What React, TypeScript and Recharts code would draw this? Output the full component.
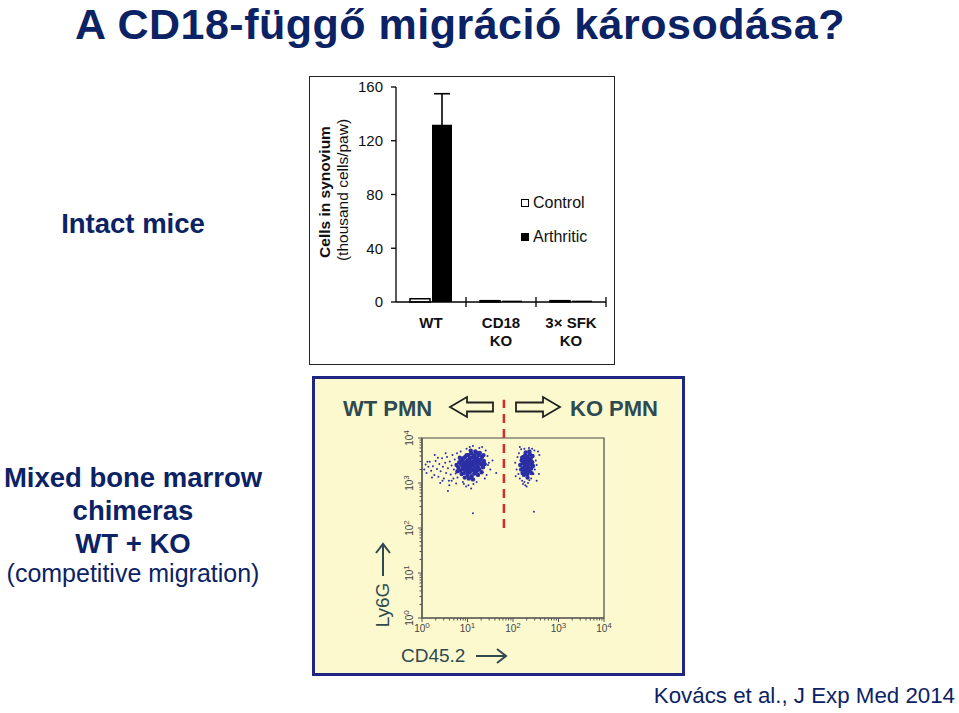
import {
  BarChart,
  Bar,
  XAxis,
  YAxis,
  ErrorBar,
  Legend,
  ScatterChart,
  Scatter,
  ReferenceLine,
  ReferenceArea,
} from "recharts";

const FONT = "'Liberation Sans', Arial, Helvetica, sans-serif";
const NAVY = "#0b2265";
const SLATE = "#2f4a4f";
const DOT = "#2b2fa6";

// bar chart: cells in synovium (thousand cells/paw)
const groups = ["WT", "CD18 KO", "3× SFK KO"];
const groupLabels = [["WT"], ["CD18", "KO"], ["3× SFK", "KO"]];
const controlCells = [2.5, 1, 1];
const arthriticCells = [132, 1, 1];
const arthriticSem = [23, 0, 0];
const cellTicks = [0, 40, 80, 120, 160];

// flow dot plot, values in log10 decades (x = CD45.2, y = Ly6G)
const decades = [0, 1, 2, 3, 4];
const gateX = 1.8;
const gateFrom = 2;
const gateTo = 4.85;

const wtCore = [
  [0.80, 3.35], [0.84, 3.28], [0.86, 3.42], [0.88, 3.50], [0.90, 3.31], [0.92, 3.22],
  [0.93, 3.44], [0.95, 3.58], [0.96, 3.36], [0.97, 3.27], [0.99, 3.49], [1.00, 3.18],
  [1.01, 3.40], [1.02, 3.62], [1.03, 3.31], [1.04, 3.53], [1.05, 3.24], [1.06, 3.45],
  [1.07, 3.36], [1.08, 3.66], [1.09, 3.15], [1.10, 3.57], [1.11, 3.29], [1.12, 3.48],
  [1.13, 3.39], [1.14, 3.60], [1.15, 3.21], [1.16, 3.51], [1.17, 3.33], [1.18, 3.44],
  [1.19, 3.68], [1.20, 3.26], [1.21, 3.55], [1.22, 3.38], [1.24, 3.47], [1.25, 3.62],
  [1.26, 3.30], [1.28, 3.52], [1.30, 3.41], [1.32, 3.58], [1.34, 3.35], [1.36, 3.49],
  [0.82, 3.46], [0.87, 3.20], [0.91, 3.55], [0.94, 3.12], [0.98, 3.62], [1.03, 3.10],
  [1.07, 3.72], [1.12, 3.08], [1.17, 3.70], [1.23, 3.18], [1.27, 3.67], [1.31, 3.24],
  [1.35, 3.62], [1.38, 3.42], [0.89, 3.38], [0.96, 3.46], [1.00, 3.32], [1.05, 3.55],
  [1.10, 3.42], [1.14, 3.30], [1.19, 3.50], [1.23, 3.34], [1.29, 3.44], [1.01, 3.26],
  [1.16, 3.62], [0.76, 3.40], [0.78, 3.26], [0.83, 3.56],
];
const wtSpread = [
  [0.05, 3.30], [0.08, 3.41], [0.10, 3.22], [0.14, 3.36], [0.17, 3.47], [0.20, 3.27],
  [0.24, 3.37], [0.27, 3.18], [0.30, 3.49], [0.33, 3.31], [0.36, 3.14], [0.38, 3.42],
  [0.41, 3.26], [0.44, 3.55], [0.46, 3.36], [0.48, 3.10], [0.51, 3.45], [0.53, 3.22],
  [0.55, 3.58], [0.57, 3.33], [0.59, 3.05], [0.61, 3.48], [0.63, 3.19], [0.65, 3.39],
  [0.67, 3.62], [0.69, 3.10], [0.70, 3.30], [0.72, 3.52], [0.74, 3.21], [0.75, 2.99],
  [0.77, 3.66], [0.78, 3.12], [0.22, 3.12], [0.12, 3.47], [0.35, 3.56], [0.57, 2.82],
  [0.92, 2.98], [0.97, 2.92], [1.02, 2.95], [1.08, 2.88], [1.13, 2.98], [1.20, 3.02],
  [1.26, 3.78], [1.32, 3.80], [1.40, 3.72], [1.44, 3.60], [1.47, 3.45], [1.50, 3.30],
  [1.42, 3.18], [1.12, 3.82], [0.98, 3.76], [1.12, 2.33], [1.63, 3.22], [1.55, 3.50],
  [0.85, 3.70], [0.65, 3.05], [0.45, 3.05], [1.38, 3.10], [0.28, 3.62], [0.40, 3.00],
  [0.52, 3.66], [0.60, 2.95], [1.45, 3.40], [1.05, 3.80], [0.90, 3.02],
];
const koCore = [
  [2.16, 3.40], [2.18, 3.30], [2.19, 3.50], [2.21, 3.22], [2.22, 3.44], [2.23, 3.58],
  [2.24, 3.34], [2.25, 3.48], [2.26, 3.25], [2.27, 3.62], [2.28, 3.40], [2.29, 3.52],
  [2.30, 3.30], [2.31, 3.44], [2.32, 3.20], [2.33, 3.58], [2.34, 3.36], [2.35, 3.50],
  [2.36, 3.28], [2.37, 3.64], [2.38, 3.42], [2.39, 3.54], [2.40, 3.32], [2.42, 3.46],
  [2.43, 3.60], [2.44, 3.38], [2.20, 3.56], [2.24, 3.18], [2.28, 3.68], [2.32, 3.12],
  [2.36, 3.70], [2.41, 3.22], [2.26, 3.36], [2.30, 3.56], [2.34, 3.26], [2.38, 3.48],
  [2.22, 3.32], [2.27, 3.50], [2.33, 3.44], [2.29, 3.22],
];
const koSpread = [
  [2.05, 3.45], [2.08, 3.30], [2.10, 3.58], [2.12, 3.20], [2.13, 3.66], [2.15, 3.10],
  [2.18, 3.75], [2.20, 3.05], [2.25, 3.02], [2.27, 2.95], [2.30, 2.92], [2.33, 3.00],
  [2.36, 3.06], [2.40, 3.10], [2.45, 3.20], [2.48, 3.30], [2.50, 3.50], [2.52, 3.40],
  [2.55, 3.70], [2.58, 3.62], [2.47, 3.72], [2.42, 3.76], [2.35, 3.78], [2.25, 3.76],
  [2.57, 3.20], [2.46, 2.36], [2.06, 3.15], [2.52, 3.05], [2.22, 2.98], [2.15, 3.80],
];

const barData = groups.map((g, i) => ({
  group: g,
  control: controlCells[i],
  arthritic: arthriticCells[i],
  sem: arthriticSem[i],
}));

const toPoints = (list: number[][]) => list.map(([x, y]) => ({ x, y }));

// log axis minor ticks between decades
const minorTicks = decades
  .slice(0, -1)
  .flatMap((d) => [2, 3, 4, 5, 6, 7, 8, 9].map((k) => d + Math.log10(k)));
const logTicks = [...decades, ...minorTicks].sort((a, b) => a - b);

const GroupTick = (props: any) => {
  const { x, y, payload, index } = props;
  const half = payload.offset || 35;
  const lines = groupLabels[index] || [payload.value];
  return (
    <g>
      <line x1={x + half} x2={x + half} y1={y - 5} y2={y + 5} stroke="#000" strokeWidth={1.3} />
      {lines.map((t: string, i: number) => (
        <text
          key={t}
          x={x}
          y={y + 26 + i * 18}
          textAnchor="middle"
          fontSize={15}
          fontWeight="bold"
          fill="#111"
          fontFamily={FONT}
        >
          {t}
        </text>
      ))}
    </g>
  );
};

const LogXTick = (props: any) => {
  const { x, y, payload } = props;
  const major = decades.includes(payload.value);
  return (
    <g>
      <line x1={x} x2={x} y1={y} y2={y + (major ? 4 : 2.5)} stroke="#555" />
      {major && (
        <text x={x} y={y + 14} textAnchor="middle" fontSize={10} fill="#444" fontFamily={FONT}>
          10
          <tspan dy={-4} fontSize={8}>
            {payload.value}
          </tspan>
        </text>
      )}
    </g>
  );
};

const LogYTick = (props: any) => {
  const { x, y, payload } = props;
  const major = decades.includes(payload.value);
  return (
    <g>
      <line x1={x} x2={x - (major ? 4 : 2.5)} y1={y} y2={y} stroke="#555" />
      {major && (
        <text
          transform={`translate(${x - 9},${y}) rotate(-90)`}
          textAnchor="middle"
          fontSize={10}
          fill="#444"
          fontFamily={FONT}
        >
          10
          <tspan dy={-4} fontSize={8}>
            {payload.value}
          </tspan>
        </text>
      )}
    </g>
  );
};

const BarLegend = () => (
  <div style={{ fontFamily: FONT, fontSize: 16, color: "#111" }}>
    {[
      { name: "Control", fill: "#fff" },
      { name: "Arthritic", fill: "#000" },
    ].map((it, i) => (
      <div
        key={it.name}
        style={{ display: "flex", alignItems: "center", height: 17, marginTop: i ? 17 : 0 }}
      >
        <span
          style={{
            width: 8,
            height: 8,
            boxSizing: "border-box",
            border: "1.5px solid #000",
            background: it.fill,
            marginRight: 4,
          }}
        />
        {it.name}
      </div>
    ))}
  </div>
);

const dotShape = (r: number) => (p: any) => <circle cx={p.cx} cy={p.cy} r={r} fill={DOT} />;

const arrowPath = (x0: number, x1: number, y: number) => {
  const d = Math.sign(x1 - x0);
  const neck = x1 - d * 17;
  return `M${x0},${y - 4.5} L${neck},${y - 4.5} L${neck},${y - 10} L${x1},${y} L${neck},${y + 10} L${neck},${y + 4.5} L${x0},${y + 4.5} Z`;
};

export default function App() {
  return (
    <div
      style={{
        position: "absolute",
        left: 0,
        top: 0,
        width: 959,
        height: 713,
        background: "#fff",
        fontFamily: FONT,
        overflow: "hidden",
      }}
    >
      <svg width={959} height={713} style={{ position: "absolute", left: 0, top: 0 }}>
        <text
          x={75}
          y={39}
          fontSize={43}
          letterSpacing={0.5}
          fontWeight="bold"
          fill={NAVY}
          fontFamily={FONT}
        >
          A CD18-függő migráció károsodása?
        </text>
        <text x={133} y={233} textAnchor="middle" fontSize={27.5} fontWeight="bold" fill={NAVY} fontFamily={FONT}>
          Intact mice
        </text>
        <g fontSize={27.5} fontWeight="bold" fill={NAVY} fontFamily={FONT} textAnchor="middle">
          <text x={133} y={487}>Mixed bone marrow</text>
          <text x={133} y={520}>chimeras</text>
          <text x={133} y={553}>WT + KO</text>
        </g>
        <text x={133} y={582} textAnchor="middle" fontSize={25} fill={NAVY} fontFamily={FONT}>
          (competitive migration)
        </text>
        <text x={955} y={703} textAnchor="end" fontSize={22.3} fill={NAVY} fontFamily={FONT}>
          Kovács et al., J Exp Med 2014
        </text>
      </svg>

      <div
        style={{
          position: "absolute",
          left: 309,
          top: 76,
          width: 306,
          height: 289,
          boxSizing: "border-box",
          border: "1px solid #222",
        }}
      />
      <div style={{ position: "absolute", left: 310, top: 77 }}>
        <BarChart
          width={305}
          height={288}
          data={barData}
          margin={{ top: 10, right: 9, left: 40, bottom: 13 }}
          barSize={20}
          barGap={2}
        >
          <XAxis
            dataKey="group"
            height={50}
            axisLine={{ stroke: "#000", strokeWidth: 1.3 }}
            tickLine={false}
            tickSize={0}
            tickMargin={0}
            interval={0}
            tick={<GroupTick />}
          />
          <YAxis
            width={46}
            domain={[0, 160]}
            ticks={cellTicks}
            axisLine={{ stroke: "#000", strokeWidth: 1.3 }}
            tickLine={{ stroke: "#000", strokeWidth: 1.3 }}
            tickSize={5}
            tickMargin={8}
            tick={{ fontSize: 15, fill: "#111", fontFamily: FONT }}
            label={{
              content: () => (
                <g fontFamily={FONT} fill="#111" fontSize={15.5}>
                  <text
                    transform="translate(20,115) rotate(-90)"
                    textAnchor="middle"
                    fontWeight="bold"
                  >
                    Cells in synovium
                  </text>
                  <text transform="translate(38,113) rotate(-90)" textAnchor="middle">
                    (thousand  cells/paw)
                  </text>
                </g>
              ),
            }}
          />
          <Legend
            layout="vertical"
            align="center"
            verticalAlign="middle"
            content={<BarLegend />}
            wrapperStyle={{ left: 211, top: 117, width: 92 }}
          />
          <Bar
            dataKey="control"
            name="Control"
            fill="#fff"
            stroke="#000"
            strokeWidth={1.5}
            isAnimationActive={false}
          />
          <Bar dataKey="arthritic" name="Arthritic" fill="#000" isAnimationActive={false}>
            <ErrorBar dataKey="sem" direction="y" width={8} stroke="#000" strokeWidth={1.6} />
          </Bar>
        </BarChart>
      </div>

      <div
        style={{
          position: "absolute",
          left: 312,
          top: 376,
          width: 373,
          height: 300,
          boxSizing: "border-box",
          border: "3px solid #1f2583",
          background: "#fcf9cf",
        }}
      />
      <div style={{ position: "absolute", left: 312, top: 376 }}>
        <ScatterChart width={373} height={300} margin={{ top: 62, right: 81, left: 80, bottom: 28 }}>
          <ReferenceArea x1={0} x2={4} y1={0} y2={4} fill="none" stroke="#4a4a4a" strokeWidth={1.2} />
          <XAxis
            type="number"
            dataKey="x"
            domain={[0, 4]}
            ticks={logTicks}
            interval={0}
            height={30}
            tickSize={0}
            tickMargin={0}
            tickLine={false}
            axisLine={{ stroke: "#4a4a4a" }}
            tick={<LogXTick />}
            label={{
              content: () => (
                <g>
                  <text x={89} y={286} fontSize={19} fill={SLATE} fontFamily={FONT}>
                    CD45.2
                  </text>
                  <path d="M164,280 L193,280 M185,273 L194,280 L185,287" stroke={SLATE} strokeWidth={2} fill="none" />
                </g>
              ),
            }}
          />
          <YAxis
            type="number"
            dataKey="y"
            domain={[0, 4]}
            ticks={logTicks}
            interval={0}
            width={30}
            tickSize={0}
            tickMargin={0}
            tickLine={false}
            axisLine={{ stroke: "#4a4a4a" }}
            tick={<LogYTick />}
            label={{
              content: () => (
                <g>
                  <text
                    transform="translate(77,229) rotate(-90)"
                    textAnchor="middle"
                    fontSize={19}
                    fill={SLATE}
                    fontFamily={FONT}
                  >
                    Ly6G
                  </text>
                  <path d="M71,200 L71,169 M64,177 L71,168 L78,177" stroke={SLATE} strokeWidth={2} fill="none" />
                </g>
              ),
            }}
          />
          <Scatter data={toPoints(wtSpread)} shape={dotShape(1)} isAnimationActive={false} />
          <Scatter data={toPoints(wtCore)} shape={dotShape(2.2)} isAnimationActive={false} />
          <Scatter data={toPoints(koSpread)} shape={dotShape(1)} isAnimationActive={false} />
          <Scatter data={toPoints(koCore)} shape={dotShape(2.2)} isAnimationActive={false} />
          <ReferenceLine
            segment={[
              { x: gateX, y: gateFrom },
              { x: gateX, y: gateTo },
            ]}
            ifOverflow="visible"
            stroke="#d42e2a"
            strokeWidth={2.5}
            strokeDasharray="9 6"
          />
        </ScatterChart>
      </div>

      <svg
        width={373}
        height={60}
        style={{ position: "absolute", left: 312, top: 376, pointerEvents: "none" }}
      >
        <text x={31} y={40} fontSize={22} fontWeight="bold" fill={SLATE} fontFamily={FONT}>
          WT PMN
        </text>
        <text x={258} y={40} fontSize={22} fontWeight="bold" fill={SLATE} fontFamily={FONT}>
          KO PMN
        </text>
        <path d={arrowPath(181, 138, 31)} fill="none" stroke="#222" strokeWidth={1.8} />
        <path d={arrowPath(204, 248, 31)} fill="none" stroke="#222" strokeWidth={1.8} />
      </svg>
    </div>
  );
}
